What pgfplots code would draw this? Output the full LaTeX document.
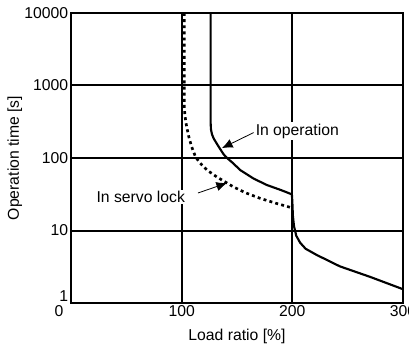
\documentclass[border=0pt]{standalone}
\usepackage{pgfplots}
\pgfplotsset{compat=1.18}
\usepackage{fontspec}
\setmainfont{Liberation Sans}
\usetikzlibrary{arrows.meta}
\begin{document}
\fontsize{11.8}{13}\selectfont
\begin{tikzpicture}
\begin{axis}[
  scale only axis,
  width=249pt, height=217.5pt,
  xmin=0, xmax=300, ymin=1, ymax=10000,
  ymode=log,
  xtick={100,200,300},
  extra x ticks={0},
  extra x tick style={grid=none, xticklabel style={xshift=-9pt}},
  ytick={10,100,1000,10000},
  yticklabels={10,100,1000,10000},
  extra y ticks={1},
  extra y tick labels={1},
  extra y tick style={grid=none, yticklabel style={yshift=5pt}},
  grid=major,
  major grid style={black, line width=1.5pt},
  axis line style={black, line width=1.3pt},
  tick style={draw=none},
  /pgf/number format/assume math mode=true,
  ticklabel style={font=\fontsize{11.8}{13}\selectfont},
  xticklabel style={inner sep=1.5pt},
  yticklabel style={inner sep=2pt},
  xlabel={Load ratio [\%]},
  ylabel={Operation time [s]},
  xlabel style={at={(axis description cs:0.5,-0.114)}, anchor=center},
  ylabel style={at={(axis description cs:-0.169,0.5)}, anchor=center},
  clip=true,
]
\addplot[black, line width=1.6pt] coordinates {
(126.2,10000) (126.2,300) (126.5,245) (127.5,210) (129,185) (131.5,160) (134.5,135) (138,112) (141,100) (146,86) (153,68) (165,52) (177,42.4) (190,36) (199.6,31.5)
(200,25) (200.5,16) (201.5,11.5) (203.5,8.5) (207,6.8) (212,5.6) (222,4.6) (243,3.2) (270,2.3) (300,1.55)};
\addplot[black, line width=2pt, dash pattern=on 2.2pt off 2.4pt] coordinates {
(102.4,10000) (102.4,500) (103,380) (104.5,270) (106.5,195) (109,143) (112.5,104) (116.6,85) (123,68) (131.6,55) (146.7,40) (158,33) (170.8,27.8) (185,23.8) (197.9,20.9) (200,20.2)};
\draw[-{Latex[length=8pt,width=7pt]}, line width=0.6pt] (axis cs:165,224) -- (axis cs:136.4,137);
\node[anchor=west, fill=white, inner sep=1pt] at (axis cs:165.5,236) {In operation};
\draw[-{Latex[length=8pt,width=7pt]}, line width=0.6pt] (axis cs:114.7,32.9) -- (axis cs:141,45.2);
\node[anchor=west, fill=white, inner sep=1pt] at (axis cs:21.7,29) {In servo lock};
\end{axis}
\pgfresetboundingbox
\path[use as bounding box] (-53.25pt,-34.5pt) rectangle (253.5pt,227.25pt);
\end{tikzpicture}
\end{document}
